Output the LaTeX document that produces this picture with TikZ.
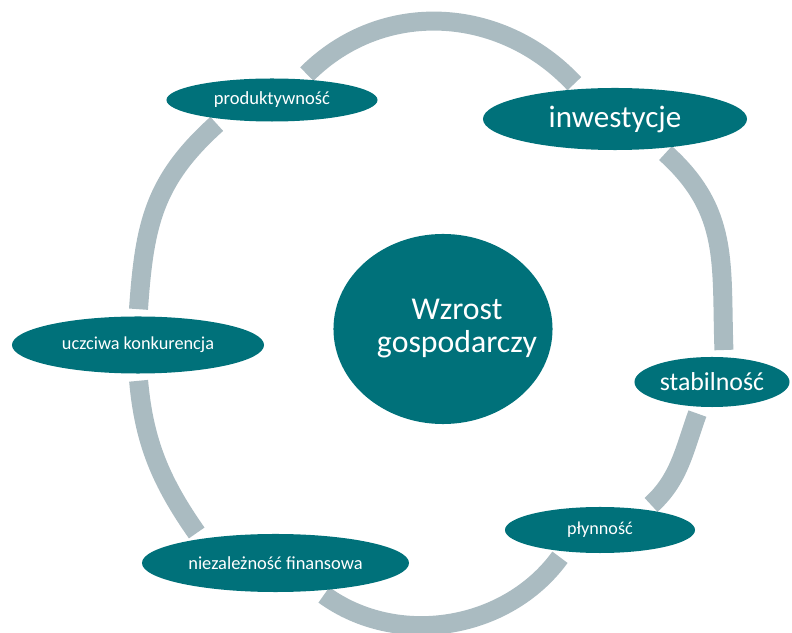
\documentclass[tikz,border=0pt]{standalone}
\usepackage{fontspec}
\setmainfont{Carlito}
\usetikzlibrary{shapes.geometric,backgrounds}
\definecolor{tealfill}{RGB}{0,113,122}
\definecolor{ringgrey}{RGB}{170,187,193}
\tikzset{
  bubble/.style={ellipse, fill=tealfill, text=white, inner sep=0pt},
  ringarc/.style={draw=ringgrey, line width=13.5pt, line cap=butt, shorten <=5pt, shorten >=5pt},
}

\begin{document}
\begin{tikzpicture}[x=0.025cm,y=0.025cm]
 \useasboundingbox (0,0) rectangle (792,633);
 %\draw [help lines] (0,0) grid [step=50] (792,633);
 \node [bubble, minimum width=5.475cm, minimum height=4.75cm,
   label={[text=white, align=center, xshift=0.35cm, font=\fontsize{22.6}{23.5}\selectfont]center:Wzrost\\gospodarczy}] (W) at (443,304) {};
 \node [bubble, minimum width=5.275cm, minimum height=1.075cm, font=\fontsize{13.2}{15}\selectfont] (P) at (272,533) {produktywność};
 \node [bubble, minimum width=6.6cm, minimum height=1.55cm, font=\fontsize{22.1}{24}\selectfont] (I) at (615,514) {inwestycje};
 \node [bubble, minimum width=3.875cm, minimum height=1.25cm, font=\fontsize{18.4}{20}\selectfont] (S) at (712,251) {stabilność};
 \node [bubble, minimum width=4.75cm, minimum height=1.15cm, font=\fontsize{12.9}{15}\selectfont] (L) at (600,103) {płynność};
 \node [bubble, minimum width=6.675cm, minimum height=1.45cm, font=\fontsize{13.1}{15}\selectfont] (N) at (275.5,70) {niezależność finansowa};
 \node [bubble, minimum width=6.3cm, minimum height=1.425cm, font=\fontsize{13}{15}\selectfont] (U) at (138,288) {uczciwa konkurencja};
 %
 \begin{scope}[on background layer]
  \draw [ringarc] (U.north) to[out=86, in=222, looseness=1.1] (P.201);
  \draw [ringarc] (P.35) to[out=45, in=133, looseness=1.05] (I.140);
  \draw [ringarc] (I.-33) to[out=-42, in=92, looseness=1.1] (S.64);
  \draw [ringarc] (S.244) to[out=250, in=42] (L.24);
  \draw [ringarc] (L.211) to[out=234, in=-36] (N.-33);
  \draw [ringarc] (N.162) to[out=125, in=-85] (U.south);
 \end{scope}
\end{tikzpicture}
\end{document}
